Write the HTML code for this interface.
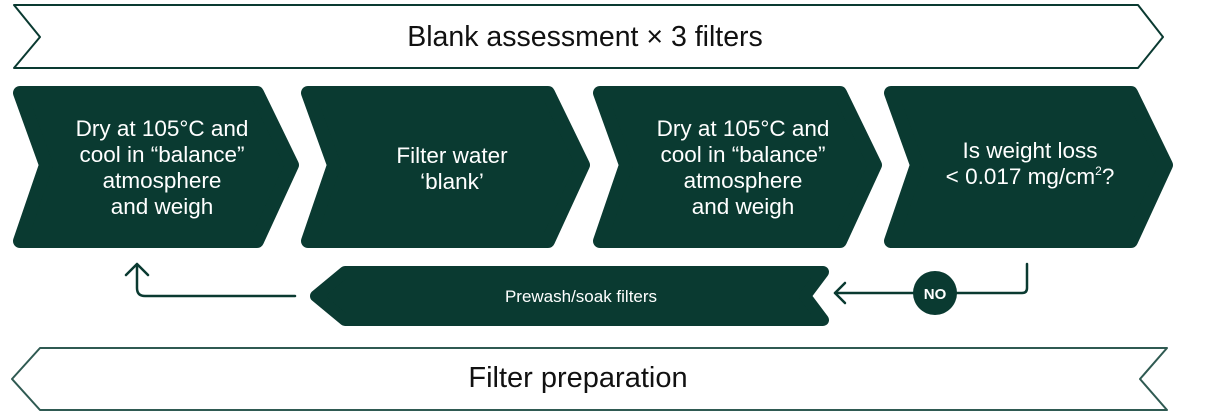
<!DOCTYPE html>
<html><head><meta charset="utf-8"><style>
html,body{margin:0;padding:0;background:#fff;}
svg{display:block}
text{font-family:"Liberation Sans",sans-serif;}
</style></head><body>
<svg width="1213" height="417" viewBox="0 0 1213 417" xmlns="http://www.w3.org/2000/svg">
<g fill="none" stroke="#0a3a31" stroke-width="2" stroke-linejoin="round">
<path d="M14,5 L1138,5 L1163,37 L1138,68 L14,68 L40,37 Z"/>
<path d="M40,348 L1167,348 L1140,379 L1167,410 L40,410 L12,379 Z" stroke="#2f5a52"/>
</g>
<g fill="#0a3a31" stroke="#0a3a31" stroke-width="14" stroke-linejoin="round">
<path d="M20,93 L257,93 L292,165 L257,241 L20,241 L46,165 Z"/>
<path d="M308,93 L548,93 L583,165 L548,241 L308,241 L334,165 Z"/>
<path d="M600,93 L840,93 L875,165 L840,241 L600,241 L626,165 Z"/>
<path d="M891,93 L1131,93 L1166,165 L1131,241 L891,241 L917,165 Z"/>
<path d="M345,272 L823,272 L805,296 L823,320 L345,320 L316,296 Z" stroke-width="12"/>
</g>
<g fill="none" stroke="#0a3a31" stroke-width="2.5" stroke-linecap="round" stroke-linejoin="round">
<path d="M295,296 L145,296 Q137,296 137,288 L137,265"/>
<path d="M126,275 L137,264 L148,275"/>
<path d="M1027,264 L1027,288 Q1027,293 1022,293 L835,293"/>
<path d="M845,283 L835,293 L845,303"/>
</g>
<circle cx="935" cy="293" r="22" fill="#0a3a31"/>
<text x="935" y="299" fill="#fff" font-size="15" font-weight="bold" text-anchor="middle">NO</text>
<text x="585" y="46" fill="#111" font-size="28.5" text-anchor="middle">Blank assessment × 3 filters</text>
<text x="578" y="387" fill="#111" font-size="29" text-anchor="middle">Filter preparation</text>
<g fill="#fff" font-size="22.5" text-anchor="middle">
<text x="162" y="136">Dry at 105°C and</text>
<text x="162" y="162">cool in “balance”</text>
<text x="162" y="188">atmosphere</text>
<text x="162" y="214">and weigh</text>
<text x="452" y="163">Filter water</text>
<text x="452" y="189">‘blank’</text>
<text x="743" y="136">Dry at 105°C and</text>
<text x="743" y="162">cool in “balance”</text>
<text x="743" y="188">atmosphere</text>
<text x="743" y="214">and weigh</text>
<text x="1030" y="158">Is weight loss</text>
<text x="1030" y="184">&lt; 0.017 mg/cm<tspan font-size="12" dy="-9">2</tspan><tspan dy="9">?</tspan></text>
<text x="581" y="302" font-size="17">Prewash/soak filters</text>
</g>
</svg>
</body></html>
